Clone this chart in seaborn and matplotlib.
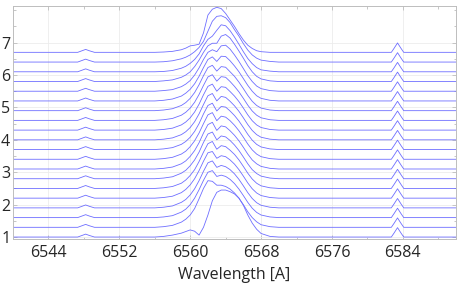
import numpy as np
import pandas as pd
import matplotlib
matplotlib.use("Agg")
import matplotlib.pyplot as plt
import seaborn as sns
from matplotlib.ticker import MultipleLocator

sns.set_style("ticks")
plt.rcParams['font.family'] = ['Open Sans', 'DejaVu Sans']

# ---- data ----
offset_step = 0.3
n_spectra = 20

# shared continuum + [NII] 6548 line (flux above continuum)
left_wave = [6540, 6547.3, 6547.8, 6548.2, 6548.6, 6549.2]
left_flux = [0, 0, 0.05, 0.09, 0.05, 0]
# shared [NII] 6583 line + continuum
right_wave = [6582.7, 6583.0, 6583.4, 6583.8, 6584.1, 6590]
right_flux = [0, 0.12, 0.29, 0.12, 0, 0]

# H-alpha region wavelengths
ha_wave = [6556, 6557, 6558, 6559, 6559.5, 6560, 6560.5, 6561, 6561.5, 6562, 6562.5,
           6563, 6563.5, 6564, 6564.5, 6565, 6565.5, 6566, 6566.5, 6567, 6567.5,
           6568, 6569, 6570]

# H-alpha flux above continuum, bottom spectrum first
ha_00 = [0, 0.02, 0.06, 0.12, 0.17, 0.22, 0.18, 0.06, 0.30, 0.68, 1.12, 1.38, 1.45, 1.45, 1.40, 1.33, 1.20, 0.98, 0.68, 0.43, 0.24, 0.11, 0.02, 0]
ha_01 = [0, 0.02, 0.06, 0.16, 0.25, 0.38, 0.58, 0.88, 1.20, 1.44, 1.42, 1.30, 1.30, 1.26, 1.18, 1.06, 0.90, 0.70, 0.48, 0.30, 0.17, 0.08, 0.02, 0]
ha_02 = [0, 0.02, 0.06, 0.17, 0.26, 0.40, 0.60, 0.86, 1.15, 1.40, 1.45, 1.27, 1.31, 1.27, 1.18, 1.05, 0.88, 0.68, 0.47, 0.29, 0.16, 0.08, 0.02, 0]
ha_03 = [0, 0.02, 0.06, 0.17, 0.26, 0.40, 0.59, 0.84, 1.13, 1.39, 1.45, 1.25, 1.31, 1.27, 1.18, 1.05, 0.88, 0.68, 0.47, 0.29, 0.16, 0.08, 0.02, 0]
ha_04 = [0, 0.02, 0.06, 0.17, 0.27, 0.41, 0.60, 0.85, 1.14, 1.40, 1.44, 1.23, 1.31, 1.28, 1.18, 1.05, 0.88, 0.68, 0.47, 0.29, 0.16, 0.08, 0.02, 0]
ha_05 = [0, 0.02, 0.06, 0.16, 0.26, 0.40, 0.58, 0.83, 1.12, 1.38, 1.45, 1.21, 1.32, 1.29, 1.18, 1.05, 0.88, 0.68, 0.47, 0.29, 0.16, 0.08, 0.02, 0]
ha_06 = [0, 0.02, 0.06, 0.17, 0.26, 0.40, 0.58, 0.82, 1.12, 1.38, 1.44, 1.20, 1.32, 1.29, 1.18, 1.04, 0.87, 0.67, 0.46, 0.28, 0.16, 0.08, 0.02, 0]
ha_07 = [0, 0.02, 0.06, 0.16, 0.25, 0.39, 0.57, 0.81, 1.11, 1.37, 1.44, 1.19, 1.33, 1.30, 1.18, 1.04, 0.87, 0.67, 0.46, 0.28, 0.16, 0.08, 0.02, 0]
ha_08 = [0, 0.02, 0.06, 0.16, 0.25, 0.39, 0.57, 0.81, 1.10, 1.37, 1.44, 1.19, 1.33, 1.30, 1.19, 1.05, 0.88, 0.68, 0.47, 0.29, 0.16, 0.08, 0.02, 0]
ha_09 = [0, 0.02, 0.06, 0.16, 0.25, 0.38, 0.56, 0.80, 1.10, 1.36, 1.43, 1.19, 1.33, 1.31, 1.19, 1.05, 0.88, 0.68, 0.47, 0.29, 0.16, 0.08, 0.02, 0]
ha_10 = [0, 0.02, 0.06, 0.16, 0.25, 0.38, 0.56, 0.80, 1.09, 1.36, 1.43, 1.20, 1.34, 1.31, 1.19, 1.05, 0.88, 0.68, 0.47, 0.29, 0.16, 0.08, 0.02, 0]
ha_11 = [0, 0.02, 0.06, 0.16, 0.25, 0.38, 0.56, 0.80, 1.09, 1.35, 1.42, 1.20, 1.34, 1.32, 1.19, 1.05, 0.88, 0.68, 0.47, 0.29, 0.16, 0.08, 0.02, 0]
ha_12 = [0, 0.02, 0.06, 0.16, 0.25, 0.38, 0.56, 0.80, 1.08, 1.34, 1.41, 1.21, 1.35, 1.33, 1.20, 1.05, 0.88, 0.68, 0.47, 0.29, 0.16, 0.08, 0.02, 0]
ha_13 = [0, 0.02, 0.06, 0.16, 0.25, 0.38, 0.56, 0.80, 1.08, 1.33, 1.40, 1.22, 1.36, 1.34, 1.20, 1.06, 0.88, 0.68, 0.47, 0.29, 0.16, 0.08, 0.02, 0]
ha_14 = [0, 0.02, 0.06, 0.15, 0.24, 0.36, 0.53, 0.76, 1.03, 1.28, 1.36, 1.22, 1.38, 1.37, 1.24, 1.08, 0.90, 0.69, 0.48, 0.30, 0.16, 0.08, 0.02, 0]
ha_15 = [0, 0.02, 0.05, 0.14, 0.22, 0.33, 0.50, 0.72, 0.98, 1.20, 1.28, 1.22, 1.40, 1.42, 1.30, 1.12, 0.92, 0.70, 0.48, 0.30, 0.16, 0.08, 0.02, 0]
ha_16 = [0, 0.02, 0.05, 0.13, 0.20, 0.30, 0.46, 0.66, 0.90, 1.10, 1.18, 1.18, 1.40, 1.45, 1.34, 1.15, 0.94, 0.72, 0.49, 0.30, 0.16, 0.08, 0.02, 0]
ha_17 = [0, 0.01, 0.04, 0.11, 0.17, 0.26, 0.38, 0.55, 0.80, 1.00, 1.10, 1.28, 1.45, 1.42, 1.27, 1.07, 0.85, 0.62, 0.41, 0.25, 0.13, 0.06, 0.02, 0]
ha_18 = [0, 0.01, 0.04, 0.10, 0.15, 0.22, 0.32, 0.45, 0.64, 0.95, 1.26, 1.41, 1.43, 1.37, 1.22, 1.00, 0.80, 0.57, 0.37, 0.22, 0.12, 0.06, 0.02, 0]
ha_19 = [0, 0.01, 0.03, 0.08, 0.13, 0.20, 0.22, 0.25, 0.60, 1.15, 1.33, 1.39, 1.35, 1.20, 1.00, 0.80, 0.58, 0.38, 0.22, 0.12, 0.05, 0.02, 0, 0]

ha_rows = [ha_00, ha_01, ha_02, ha_03, ha_04, ha_05, ha_06, ha_07, ha_08, ha_09,
           ha_10, ha_11, ha_12, ha_13, ha_14, ha_15, ha_16, ha_17, ha_18, ha_19]

x_ticks = [6544, 6552, 6560, 6568, 6576, 6584]
y_ticks = [1, 2, 3, 4, 5, 6, 7]

# ---- build long table ----
frames = []
wave_all = left_wave + ha_wave + right_wave
for i, row in enumerate(ha_rows):
    rel = left_flux + row + right_flux
    frames.append(pd.DataFrame({
        "wavelength": wave_all,
        "flux": [1.0 + offset_step * i + v for v in rel],
        "spectrum": i,
    }))
df = pd.concat(frames, ignore_index=True)

# ---- draw ----
W, H = 463, 285
fig = plt.figure(figsize=(W / 100, H / 100), dpi=100)
ax = fig.add_axes([13 / W, 1 - 238.5 / H, (456 - 13) / W, (238.5 - 6) / H])

line_color = "#6e6eff"
sns.lineplot(data=df, x="wavelength", y="flux", hue="spectrum",
             palette=[line_color] * n_spectra, legend=False,
             estimator=None, sort=False, linewidth=0.6, ax=ax)

ax.set_xlim(6540, 6590)
ax.set_ylim(0.955, 8.13)
ax.set_xticks(x_ticks)
ax.set_yticks(y_ticks)
ax.xaxis.set_minor_locator(MultipleLocator(4))
ax.yaxis.set_minor_locator(MultipleLocator(0.5))
ax.grid(True, which="major", color="#ececec", linewidth=0.6)
ax.set_axisbelow(True)
for s in ax.spines.values():
    s.set_color("#bdbdbd")
    s.set_linewidth(0.7)
ax.tick_params(which="both", direction="in", top=True, right=True,
               color="#bdbdbd", width=0.6)
ax.tick_params(which="major", length=3)
ax.tick_params(which="minor", length=1.8)
ax.tick_params(axis="x", labelsize=11.5, pad=5)
ax.tick_params(axis="y", labelsize=11.5, pad=2)
ax.set_xlabel("Wavelength [A]", fontsize=11.5, labelpad=4)
ax.set_ylabel("")

fig.savefig("out.png", dpi=100)
